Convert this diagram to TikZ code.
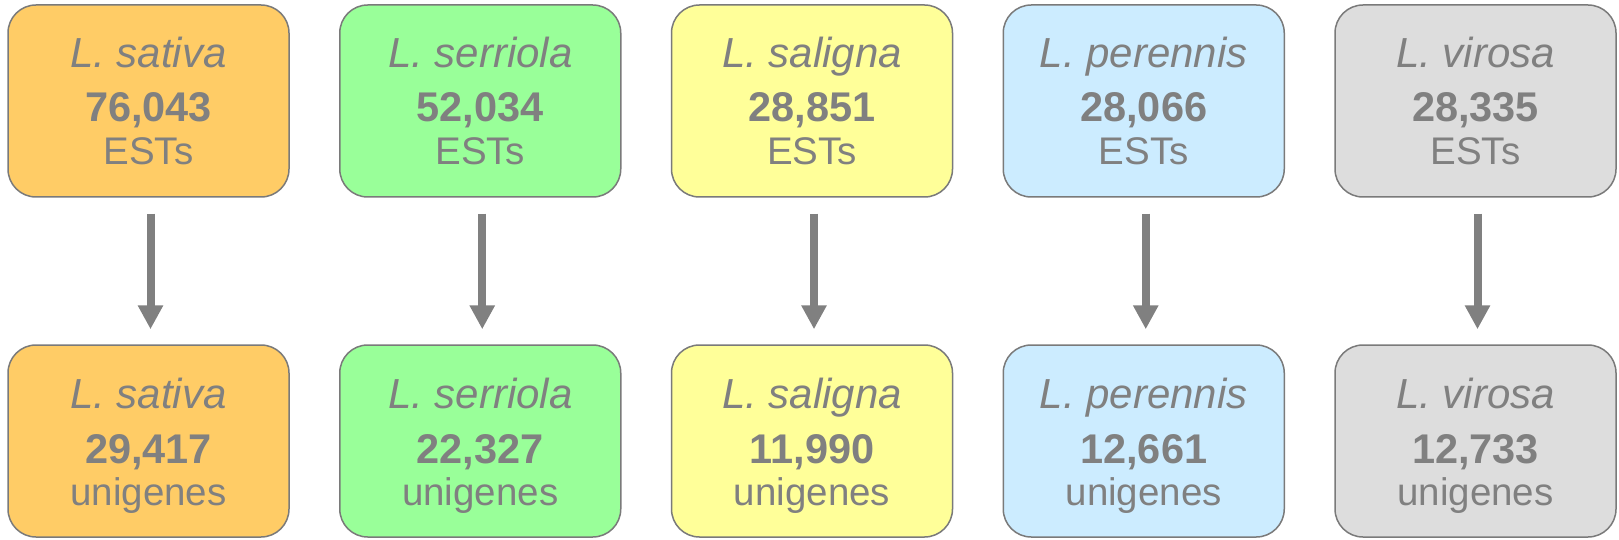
\documentclass[tikz,border=0pt]{standalone}
\usepackage{fontspec}
\setmainfont{Liberation Sans}
\usetikzlibrary{arrows.meta}
\definecolor{c1}{HTML}{FFCC66}
\definecolor{c2}{HTML}{99FF99}
\definecolor{c3}{HTML}{FFFF99}
\definecolor{c4}{HTML}{CCECFF}
\definecolor{c5}{HTML}{DDDDDD}
\definecolor{txt}{HTML}{808080}
\definecolor{edgec}{HTML}{7A7A7A}
\begin{document}
\begin{tikzpicture}[x=1pt,y=-1pt,
  box/.style={draw=edgec, line width=1.5pt, rounded corners=28pt, minimum width=281pt, minimum height=192pt, inner sep=0pt},
  spname/.style={text=txt, font=\fontsize{42}{42}\selectfont\itshape, anchor=base, inner sep=0pt},
  numtxt/.style={text=txt, font=\fontsize{41.5}{41.5}\selectfont\bfseries, anchor=base, inner sep=0pt},
  unittxt/.style={text=txt, font=\fontsize{38.5}{38.5}\selectfont, anchor=base, inner sep=0pt},
  flow/.style={draw=txt, line width=8pt, -{Triangle[width=24pt,length=24pt]}, shorten <=16pt, shorten >=15pt}]
\useasboundingbox (0,0) rectangle (1619,540);
\foreach \i/\sp/\a/\b/\col in {0/sativa/76{,}043/29{,}417/c1,1/serriola/52{,}034/22{,}327/c2,2/saligna/28{,}851/11{,}990/c3,3/perennis/28{,}066/12{,}661/c4,4/virosa/28{,}335/12{,}733/c5}{
  \pgfmathsetmacro{\cx}{148.5+\i*331.75}
  \node[box, fill=\col] (t\i) at (\cx,101) {};
  \node[spname] (ts\i) at (\cx,68) {L. \sp};
  \node[numtxt] (tn\i) at (\cx,122) {\a};
  \node[unittxt] (tu\i) at (\cx,165) {ESTs};
  \node[box, fill=\col] (b\i) at (\cx,441) {};
  \node[spname] (bs\i) at (\cx,408) {L. \sp};
  \node[numtxt] (bn\i) at (\cx,463) {\b};
  \node[unittxt] (bu\i) at (\cx,505) {unigenes};
  \draw[flow] ([xshift=2pt]t\i.south) -- ([xshift=2pt]b\i.north);
}
\end{tikzpicture}
\end{document}
